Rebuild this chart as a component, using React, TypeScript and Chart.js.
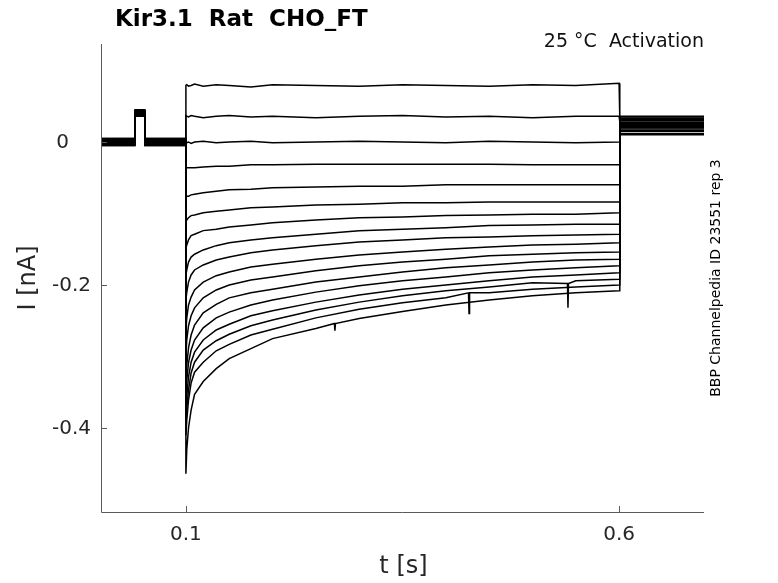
import React, { useEffect, useRef } from "react";
import { Chart, registerables } from "chart.js";

Chart.register(...registerables);

// ---- data (nA vs s) ----
const PRE_T = [0.002, 0.0411, 0.0413, 0.0525, 0.0527, 0.0999];
const STEP_T = [0.1, 0.101, 0.103, 0.106, 0.11, 0.12, 0.135, 0.15, 0.175, 0.2, 0.25, 0.3, 0.35, 0.4, 0.45, 0.5, 0.55, 0.6];
const TAIL_T = [0.6008, 0.62, 0.64, 0.66, 0.68, 0.698];

const BASELINE = [0.004, -0.003, 0.002, -0.005, 0.005, -0.001, 0.003, -0.004, 0.001, -0.002, 0.004, -0.005, 0.002, -0.003, 0.000, 0.005, -0.004];
const PULSE = [0.044, 0.038, 0.042, 0.036, 0.045, 0.040, 0.037, 0.043, 0.039, 0.041, 0.036, 0.044, 0.038, 0.042, 0.040, 0.037, 0.043];

const T1 = [0.079, 0.080, 0.078, 0.079, 0.081, 0.078, 0.080, 0.079, 0.077, 0.080, 0.079, 0.078, 0.080, 0.079, 0.078, 0.080, 0.079, 0.082];
const T2 = [0.037, 0.036, 0.035, 0.037, 0.036, 0.034, 0.036, 0.037, 0.035, 0.036, 0.034, 0.036, 0.037, 0.035, 0.036, 0.034, 0.036, 0.036];
const T3 = [-0.001, -0.001, 0.000, -0.002, 0.000, 0.001, -0.001, 0.000, 0.001, -0.001, 0.000, 0.001, 0.000, -0.001, 0.001, 0.000, -0.001, 0.000];
const T4 = [-0.036, -0.036, -0.036, -0.036, -0.036, -0.035, -0.034, -0.034, -0.032, -0.032, -0.031, -0.031, -0.031, -0.031, -0.031, -0.032, -0.032, -0.032];
const T5 = [-0.077, -0.076, -0.076, -0.074, -0.073, -0.071, -0.069, -0.067, -0.066, -0.064, -0.063, -0.062, -0.062, -0.060, -0.060, -0.060, -0.060, -0.060];
const T6 = [-0.112, -0.109, -0.106, -0.103, -0.102, -0.099, -0.097, -0.095, -0.092, -0.091, -0.088, -0.087, -0.085, -0.085, -0.084, -0.084, -0.084, -0.084];
const T7 = [-0.148, -0.144, -0.137, -0.131, -0.129, -0.124, -0.122, -0.119, -0.116, -0.113, -0.109, -0.106, -0.105, -0.103, -0.102, -0.101, -0.101, -0.099];
const T8 = [-0.186, -0.179, -0.168, -0.161, -0.157, -0.151, -0.145, -0.141, -0.137, -0.134, -0.129, -0.124, -0.122, -0.120, -0.117, -0.116, -0.115, -0.115];
const T9 = [-0.221, -0.210, -0.196, -0.186, -0.179, -0.172, -0.165, -0.161, -0.155, -0.151, -0.145, -0.140, -0.137, -0.134, -0.133, -0.131, -0.130, -0.129];
const T10 = [-0.263, -0.246, -0.228, -0.217, -0.207, -0.196, -0.187, -0.182, -0.175, -0.171, -0.164, -0.158, -0.154, -0.150, -0.147, -0.144, -0.143, -0.141];
const T11 = [-0.298, -0.277, -0.257, -0.243, -0.232, -0.218, -0.207, -0.200, -0.193, -0.189, -0.180, -0.173, -0.168, -0.164, -0.159, -0.157, -0.155, -0.154];
const T12 = [-0.333, -0.312, -0.288, -0.270, -0.256, -0.239, -0.227, -0.218, -0.211, -0.206, -0.196, -0.189, -0.182, -0.176, -0.172, -0.168, -0.165, -0.164];
const T13 = [-0.354, -0.333, -0.309, -0.291, -0.277, -0.260, -0.246, -0.238, -0.228, -0.221, -0.210, -0.201, -0.194, -0.189, -0.183, -0.179, -0.176, -0.173];
const T14 = [-0.375, -0.354, -0.329, -0.308, -0.294, -0.277, -0.263, -0.255, -0.243, -0.236, -0.224, -0.214, -0.206, -0.200, -0.194, -0.189, -0.186, -0.183];
const T15 = [-0.389, -0.372, -0.347, -0.323, -0.308, -0.291, -0.278, -0.269, -0.257, -0.249, -0.235, -0.224, -0.215, -0.208, -0.203, -0.197, -0.194, -0.192];
const T16 = [-0.410, -0.389, -0.361, -0.337, -0.322, -0.308, -0.292, -0.283, -0.270, -0.262, -0.246, -0.234, -0.225, -0.218, -0.211, -0.206, -0.203, -0.200];
const T17 = [-0.464, -0.430, -0.400, -0.375, -0.353, -0.335, -0.317, -0.303, -0.289, -0.275, -0.261, -0.247, -0.237, -0.228, -0.221, -0.215, -0.211, -0.208];
const TRACES = [T1, T2, T3, T4, T5, T6, T7, T8, T9, T10, T11, T12, T13, T14, T15, T16, T17];

const TAIL = [0.033, 0.028, 0.024, 0.036, 0.020, 0.030, 0.015, 0.026, 0.012, 0.022, 0.035, 0.018, 0.027, 0.010, 0.031, 0.016, 0.023];

// short downward glitches seen in the lower traces
const SPIKES = [
  { trace: 16, t: [0.2714, 0.272, 0.2726], i: [-0.254, -0.264, -0.254] },
  { trace: 15, t: [0.4262, 0.4268, 0.4274], i: [-0.211, -0.240, -0.211] },
  { trace: 14, t: [0.5404, 0.541, 0.5416], i: [-0.198, -0.232, -0.198] },
];

const X_TICKS = [0.1, 0.6];
const Y_TICKS = [0, -0.2, -0.4];
const Y_TICK_LABELS = ["0", "-0.2", "-0.4"];

const TITLE = "Kir3.1  Rat  CHO_FT";
const SUBTITLE = "25 °C  Activation";
const SIDE_NOTE = "BBP Channelpedia ID 23551 rep 3";
const X_LABEL = "t [s]";
const Y_LABEL = "I [nA]";

const FONT = "'DejaVu Sans', sans-serif";

function buildTrace(k: number) {
  const pts: { x: number; y: number }[] = [];
  const b = BASELINE[k];
  const p = PULSE[k];
  const pre = [b, b, p, p, b, b];
  PRE_T.forEach((t, j) => pts.push({ x: t, y: pre[j] }));
  STEP_T.forEach((t, j) => pts.push({ x: t, y: TRACES[k][j] }));
  TAIL_T.forEach((t) => pts.push({ x: t, y: TAIL[k] }));
  SPIKES.filter((s) => s.trace === k).forEach((s) =>
    s.t.forEach((t, j) => pts.push({ x: t, y: s.i[j] }))
  );
  pts.sort((a, c) => a.x - c.x);
  return pts;
}

const decor = {
  id: "decor",
  afterDraw(chart: any) {
    const { ctx, chartArea: a, scales } = chart;
    const xs = scales.x;
    const ys = scales.y;
    ctx.save();
    // axes lines
    ctx.strokeStyle = "#5a5a5a";
    ctx.lineWidth = 1;
    ctx.beginPath();
    ctx.moveTo(a.left + 0.5, a.top);
    ctx.lineTo(a.left + 0.5, a.bottom + 0.5);
    ctx.lineTo(a.right, a.bottom + 0.5);
    ctx.stroke();
    // ticks (inward)
    ctx.beginPath();
    X_TICKS.forEach((v) => {
      const px = Math.round(xs.getPixelForValue(v)) + 0.5;
      ctx.moveTo(px, a.bottom);
      ctx.lineTo(px, a.bottom - 6);
    });
    Y_TICKS.forEach((v) => {
      const py = Math.round(ys.getPixelForValue(v)) + 0.5;
      ctx.moveTo(a.left, py);
      ctx.lineTo(a.left + 6, py);
    });
    ctx.stroke();

    ctx.fillStyle = "#262626";
    ctx.font = `20px ${FONT}`;
    ctx.textBaseline = "middle";
    ctx.textAlign = "center";
    X_TICKS.forEach((v) => {
      ctx.fillText(String(v), xs.getPixelForValue(v), a.bottom + 23);
    });
    ctx.textAlign = "right";
    Y_TICKS.forEach((v, j) => {
      const rx = v === 0 ? a.left - 32 : a.left - 10;
      ctx.fillText(Y_TICK_LABELS[j], rx, ys.getPixelForValue(v) + 1);
    });

    // axis labels
    ctx.font = `24px ${FONT}`;
    ctx.textAlign = "center";
    ctx.fillText(X_LABEL, (a.left + a.right) / 2 + 1, 567);
    ctx.save();
    ctx.translate(29, 278);
    ctx.rotate(-Math.PI / 2);
    ctx.fillText(Y_LABEL, 0, 0);
    ctx.restore();

    // title
    ctx.fillStyle = "#000";
    ctx.font = `bold 23px ${FONT}`;
    ctx.textAlign = "left";
    ctx.textBaseline = "alphabetic";
    ctx.fillText(TITLE, 115, 26);

    ctx.font = `19px ${FONT}`;
    ctx.textAlign = "right";
    ctx.fillStyle = "#111";
    ctx.fillText(SUBTITLE, 704, 47);

    ctx.save();
    ctx.translate(716, 278);
    ctx.rotate(-Math.PI / 2);
    ctx.font = `14px ${FONT}`;
    ctx.textAlign = "center";
    ctx.textBaseline = "middle";
    ctx.fillStyle = "#000";
    ctx.fillText(SIDE_NOTE, 0, 0);
    ctx.restore();

    ctx.restore();
  },
};

export default function App() {
  const ref = useRef<HTMLCanvasElement>(null);
  useEffect(() => {
    document.body.style.margin = "0";
    const datasets = TRACES.map((_, k) => ({
      data: buildTrace(k),
      borderColor: "#000",
      borderWidth: 1.5,
      pointRadius: 0,
      tension: 0,
      fill: false,
    }));
    const chart = new Chart(ref.current as HTMLCanvasElement, {
      type: "line",
      data: { datasets },
      options: {
        animation: false,
        responsive: false,
        events: [],
        layout: { padding: { left: 101, top: 44, right: 74, bottom: 71 } },
        plugins: { legend: { display: false }, tooltip: { enabled: false } },
        scales: {
          x: { type: "linear", min: 0.002, max: 0.698, display: false },
          y: { type: "linear", min: -0.5175, max: 0.137, display: false },
        },
      },
      plugins: [decor],
    });
    return () => chart.destroy();
  }, []);
  return (
    <div style={{ position: "absolute", left: 0, top: 0, width: 778, height: 583, background: "#fff" }}>
      <canvas ref={ref} width={778} height={583} />
    </div>
  );
}
